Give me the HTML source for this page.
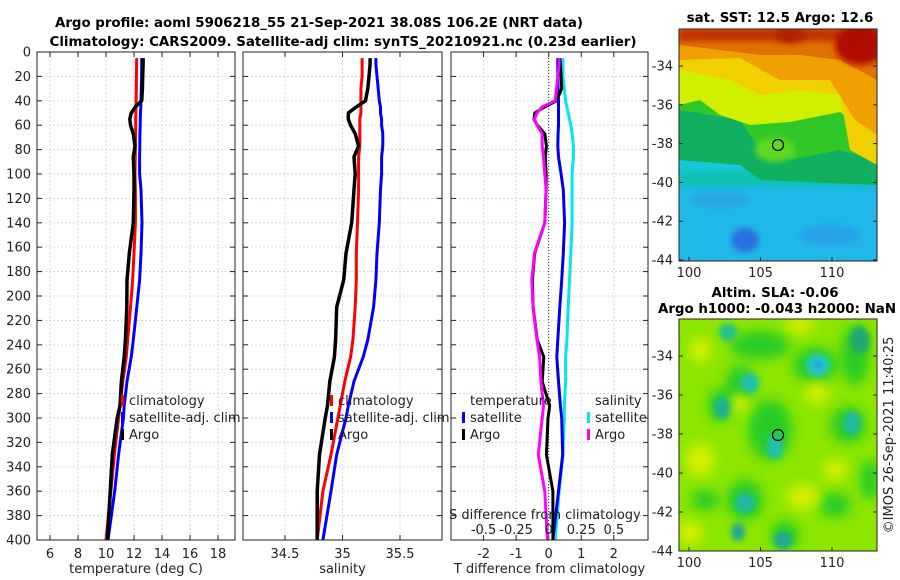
<!DOCTYPE html>
<html><head><meta charset="utf-8"><style>
body{margin:0;background:#fff;}
svg{display:block;font-family:"DejaVu Sans","Liberation Sans",sans-serif;}
.t{font-size:13px;fill:#222;}
.b{font-size:13.4px;font-weight:bold;fill:#000;}
</style></head><body>
<svg id="c" width="900" height="580" viewBox="0 0 900 580">
<defs>
<filter id="bl" x="-50%" y="-50%" width="200%" height="200%"><feGaussianBlur stdDeviation="6"/></filter>
<filter id="bl2" x="-50%" y="-50%" width="200%" height="200%"><feGaussianBlur stdDeviation="3"/></filter>
<clipPath id="cm1"><rect x="679" y="29" width="198" height="232"/></clipPath>
<clipPath id="cm2"><rect x="679" y="319" width="198" height="232"/></clipPath>
</defs>
<text class="b" x="319" y="27" text-anchor="middle" textLength="528">Argo profile: aoml 5906218_55 21-Sep-2021 38.08S 106.2E (NRT data)</text>
<text class="b" x="343" y="46" text-anchor="middle" textLength="587">Climatology: CARS2009. Satellite-adj clim: synTS_20210921.nc (0.23d earlier)</text>
<g id="panels"></g>

<!-- SST map -->
<g clip-path="url(#cm1)">
<rect x="679" y="29" width="198" height="232" fill="#18c8d8"/>
<rect x="679" y="175" width="198" height="86" fill="#20b8e8"/>
<ellipse cx="745" cy="240" rx="14" ry="12" fill="#2a70e0" filter="url(#bl2)"/>
<ellipse cx="720" cy="200" rx="30" ry="8" fill="#28a8e0" filter="url(#bl2)"/>
<ellipse cx="830" cy="235" rx="30" ry="10" fill="#28a0e8" filter="url(#bl2)"/>
<rect x="679" y="172" width="198" height="14" fill="#10c0b0" filter="url(#bl2)"/>
<polygon points="679,29 877,29 877,185 760,180 740,165 679,160" fill="#10b060"/>
<polygon points="679,110 740,120 760,150 790,160 840,150 877,160 877,29 679,29" fill="#30c828"/>
<polygon points="679,105 700,100 720,115 750,125 790,122 840,112 877,140 877,29 679,29" fill="#d0f000"/>
<ellipse cx="775" cy="150" rx="20" ry="12" fill="#60d820" filter="url(#bl2)"/>
<polygon points="679,70 730,80 760,95 800,90 840,95 850,150 877,165 877,29 679,29" fill="#f0d000"/>
<polygon points="679,60 740,58 780,80 830,80 855,120 877,135 877,29 679,29" fill="#f0a000"/>
<polygon points="679,45 720,50 760,55 800,55 840,60 877,80 877,29 679,29" fill="#e07000"/>
<rect x="679" y="29" width="198" height="12" fill="#c03000" filter="url(#bl2)"/>
<ellipse cx="860" cy="45" rx="25" ry="20" fill="#b01000" filter="url(#bl2)"/>
<ellipse cx="790" cy="35" rx="15" ry="8" fill="#b02000" filter="url(#bl2)"/>
</g>
<rect x="679" y="29" width="198" height="232" fill="none" stroke="#222" stroke-width="1"/>
<circle cx="778" cy="145" r="5.5" fill="none" stroke="#000" stroke-width="1.2"/>
<text class="b" x="780" y="22" text-anchor="middle">sat. SST: 12.5 Argo: 12.6</text>

<!-- SLA map -->
<g clip-path="url(#cm2)">
<rect x="679" y="319" width="198" height="232" fill="#8ce600"/>
<g filter="url(#bl)" fill="#28cc28">
<ellipse cx="760" cy="345" rx="30" ry="14"/><ellipse cx="815" cy="365" rx="22" ry="18"/>
<ellipse cx="770" cy="430" rx="22" ry="30"/><ellipse cx="740" cy="385" rx="14" ry="20"/>
<ellipse cx="855" cy="355" rx="14" ry="30"/><ellipse cx="848" cy="425" rx="18" ry="18"/>
<ellipse cx="720" cy="405" rx="12" ry="16"/><ellipse cx="745" cy="500" rx="18" ry="20"/>
<ellipse cx="785" cy="535" rx="14" ry="14"/><ellipse cx="705" cy="500" rx="14" ry="10"/>
<ellipse cx="835" cy="505" rx="16" ry="12"/><ellipse cx="870" cy="480" rx="10" ry="20"/>
</g>
<g filter="url(#bl)" fill="#d8f000">
<ellipse cx="740" cy="403" rx="10" ry="9"/><ellipse cx="817" cy="393" rx="12" ry="10"/>
<ellipse cx="700" cy="460" rx="14" ry="16"/><ellipse cx="803" cy="497" rx="16" ry="12"/>
<ellipse cx="690" cy="533" rx="12" ry="12"/><ellipse cx="700" cy="350" rx="10" ry="12"/>
<ellipse cx="835" cy="470" rx="12" ry="10"/><ellipse cx="800" cy="325" rx="14" ry="8"/>
</g>
<g filter="url(#bl2)">
<ellipse cx="728" cy="332" rx="9" ry="9" fill="#20c090"/>
<ellipse cx="818" cy="365" rx="12" ry="11" fill="#20c8c8"/>
<ellipse cx="818" cy="365" rx="5" ry="5" fill="#20a0e0"/>
<ellipse cx="750" cy="383" rx="9" ry="10" fill="#20c0b0"/>
<ellipse cx="722" cy="408" rx="8" ry="11" fill="#20b090"/>
<ellipse cx="852" cy="423" rx="8" ry="12" fill="#20b8a8"/>
<ellipse cx="775" cy="447" rx="8" ry="12" fill="#20c0b0"/>
<ellipse cx="745" cy="503" rx="10" ry="10" fill="#20b8a0"/>
<ellipse cx="738" cy="532" rx="7" ry="9" fill="#20a890"/>
<ellipse cx="783" cy="540" rx="9" ry="9" fill="#20a890"/>
<ellipse cx="860" cy="340" rx="10" ry="14" fill="#20a870"/>
</g>
</g>
<rect x="679" y="319" width="198" height="232" fill="none" stroke="#222" stroke-width="1"/>
<circle cx="778" cy="435" r="5.5" fill="none" stroke="#000" stroke-width="1.2"/>
<text class="b" x="775" y="297" text-anchor="middle">Altim. SLA: -0.06</text>
<text class="b" x="777" y="313" text-anchor="middle">Argo h1000: -0.043 h2000: NaN</text>
<text class="t" transform="translate(893,435) rotate(-90)" text-anchor="middle">©IMOS 26-Sep-2021 11:40:25</text>
<g id="maps-axes"></g>
</svg>
<script>
const depths=[5,10,20,30,40,45,50,55,60,67,77,86,100,113,140,165,187,209,236,250,270,290,300,330,360,400];
const tempClim=[12.19,12.18,12.17,12.16,12.15,12.14,12.13,12.12,12.12,12.11,12.1,12.09,12.07,12.1,12.1,12.0,11.9,11.75,11.55,11.45,11.2,11.0,10.9,10.6,10.35,10.0];
const tempSat=[12.55,12.55,12.54,12.52,12.5,12.48,12.46,12.45,12.44,12.42,12.41,12.4,12.4,12.5,12.57,12.5,12.4,12.2,11.95,11.8,11.5,11.3,11.24,10.9,10.62,10.14];
const tempArgo=[12.65,12.65,12.62,12.6,12.55,12.1,11.8,11.7,11.75,11.95,12.07,11.95,12.0,12.0,11.95,11.66,11.5,11.48,11.38,11.3,11.1,11.0,10.8,10.45,10.3,10.1];
const salClim=[35.17,35.17,35.17,35.16,35.16,35.16,35.16,35.15,35.15,35.15,35.15,35.14,35.14,35.14,35.13,35.12,35.12,35.11,35.09,35.07,35.02,34.98,34.96,34.9,34.83,34.78];
const salSat=[35.29,35.29,35.3,35.31,35.32,35.33,35.33,35.34,35.34,35.35,35.35,35.34,35.34,35.33,35.32,35.3,35.29,35.27,35.22,35.18,35.1,35.05,35.03,34.95,34.9,34.83];
const salArgo=[35.24,35.24,35.23,35.22,35.2,35.12,35.05,35.05,35.07,35.11,35.14,35.1,35.11,35.1,35.08,35.03,35.01,34.95,34.94,34.93,34.89,34.87,34.85,34.8,34.78,34.78];
const dTSat=[0.28,0.28,0.28,0.29,0.3,0.3,0.3,0.3,0.3,0.29,0.28,0.3,0.38,0.45,0.49,0.45,0.4,0.34,0.28,0.25,0.3,0.36,0.4,0.43,0.3,0.13];
const dSSat=[0.11,0.11,0.11,0.12,0.13,0.14,0.15,0.16,0.17,0.18,0.19,0.19,0.18,0.18,0.18,0.17,0.16,0.15,0.14,0.13,0.13,0.12,0.12,0.11,0.08,0.05];
const dTArgo=[0.34,0.36,0.38,0.4,0.24,-0.12,-0.43,-0.45,-0.35,-0.12,-0.07,-0.1,-0.08,-0.08,-0.12,-0.43,-0.5,-0.48,-0.35,-0.15,-0.2,0.03,-0.02,-0.07,0.13,0.13];
const dSArgo=[0.08,0.08,0.07,0.06,0.05,-0.05,-0.09,-0.11,-0.09,-0.05,-0.05,-0.04,-0.03,-0.02,-0.03,-0.11,-0.13,-0.12,-0.09,-0.07,-0.06,-0.04,-0.05,-0.08,-0.03,-0.01];
const yTicks=[0,20,40,60,80,100,120,140,160,180,200,220,240,260,280,300,320,340,360,380,400];
const tTicks=[6,8,10,12,14,16,18];
const sTicks=[34.5,35,35.5];
const dtTicks=[-2,-1,0,1,2];
const dsTicks=[-0.5,-0.25,0,0.25,0.5];
const dsTickLabels=["-0.5","-0.25","0","0.25","0.5"];
const lonTicks=[100,105,110];
const latTicks=[-34,-36,-38,-40,-42,-44];

const NS="http://www.w3.org/2000/svg";
const G=document.getElementById('panels');
function el(tag,attrs,parent){const e=document.createElementNS(NS,tag);for(const k in attrs)e.setAttribute(k,attrs[k]);(parent||G).appendChild(e);return e;}
const Y0=52,Y1=540;
const yS=d=>Y0+(d/400)*(Y1-Y0);
function mkX(x0,x1,v0,v1){return v=>x0+(v-v0)/(v1-v0)*(x1-x0);}
const panels=[
 {x0:37,x1:235,sx:mkX(37,235,5.07,19.21),ticks:tTicks,label:"temperature (deg C)",name:"temperature-panel"},
 {x0:243,x1:442,sx:mkX(243,442,34.135,35.865),ticks:sTicks,label:"salinity",name:"salinity-panel"},
 {x0:451,x1:648,sx:mkX(451,648,-3.0,3.05),ticks:dtTicks,label:"T difference from climatology",name:"difference-panel"}
];
panels.forEach((p,i)=>{
 const g=el('g',{});
 
 
 p.g=g;
 p.ticks.forEach(v=>{const x=p.sx(v);
  const l=el('line',{x1:x,x2:x,y1:Y0,y2:Y1,stroke:'#c8c8f0','stroke-width':0.7,'stroke-dasharray':'2,2'},g);
  
  el('line',{x1:x,x2:x,y1:Y1,y2:Y1-5,stroke:'#222'},g);el('line',{x1:x,x2:x,y1:Y0,y2:Y0+5,stroke:'#222'},g);
  const t=el('text',{x:x,y:558,'text-anchor':'middle',class:'t'},g);t.textContent=String(v);
  
 });
 yTicks.forEach(d=>{const y=yS(d);
  const l=el('line',{x1:p.x0,x2:p.x1,y1:y,y2:y,stroke:'#c8c8f0','stroke-width':0.7,'stroke-dasharray':'2,2'},g);
  
  el('line',{x1:p.x0,x2:p.x0+5,y1:y,y2:y,stroke:'#222'},g);el('line',{x1:p.x1,x2:p.x1-5,y1:y,y2:y,stroke:'#222'},g);
  if(i===0){const t=el('text',{x:31,y:y+4.5,'text-anchor':'end',class:'t'},g);t.textContent=String(d);
   }
 });
 const t=el('text',{x:(p.x0+p.x1)/2,y:573,'text-anchor':'middle',class:'t'},g);t.textContent=p.label;
 
});
function line(p,vals,color,name,w){
 const pts=vals.map((v,k)=>p.sx(v).toFixed(1)+','+yS(depths[k]).toFixed(1)).join(' ');
 const e=el('polyline',{points:pts,fill:'none',stroke:color,'stroke-width':w||3,'stroke-linejoin':'round'},p.g);
 
 
}
const P=panels;
line(P[0],tempClim,'#ff0000','temp-climatology-line');
line(P[0],tempSat,'#0000ff','temp-satellite-line');
line(P[0],tempArgo,'#000000','temp-argo-line',3.5);
line(P[1],salClim,'#ff0000','sal-climatology-line');
line(P[1],salSat,'#0000ff','sal-satellite-line');
line(P[1],salArgo,'#000000','sal-argo-line',3.5);
const z=el('line',{x1:P[2].sx(0),x2:P[2].sx(0),y1:Y0,y2:Y1,stroke:'#333','stroke-width':1,'stroke-dasharray':'1,2'},P[2].g);

const sxS=v=>P[2].sx(v*4);
const P3s={g:P[2].g,sx:sxS};
line(P3s,dSSat,'#00e8e8','sal-diff-satellite-line');
line(P[2],dTSat,'#0000ee','temp-diff-satellite-line');
line(P[2],dTArgo,'#000000','temp-diff-argo-line');
line(P3s,dSArgo,'#ff00ff','sal-diff-argo-line');
dsTicks.forEach((v,k)=>{const t=el('text',{x:sxS(v),y:534,'text-anchor':'middle',class:'t'},P[2].g);t.textContent=dsTickLabels[k];
 });
{const t=el('text',{x:449,y:519,class:'t'},P[2].g);t.textContent='S difference from climatology';
 }
panels.forEach(p=>{const r=el('rect',{x:p.x0,y:Y0,width:p.x1-p.x0,height:Y1-Y0,fill:'none',stroke:'#222','stroke-width':1},p.g);
 });
function legend(x,items,parent){items.forEach((it,k)=>{
 const y=395+k*17;
 if(it.c){el('rect',{x:x,y:y,width:3,height:11,fill:it.c},parent);}
 const t=el('text',{x:x+8,y:y+10,class:'t',fill:'#000'},parent);t.textContent=it.t;
 
});}
legend(121,[{c:'#ff0000',t:'climatology'},{c:'#0000ff',t:'satellite-adj. clim'},{c:'#000',t:'Argo'}],P[0].g);
legend(330,[{c:'#ff0000',t:'climatology'},{c:'#0000ff',t:'satellite-adj. clim'},{c:'#000',t:'Argo'}],P[1].g);
legend(462,[{c:null,t:'temperature'},{c:'#0000ff',t:'satellite'},{c:'#000',t:'Argo'}],P[2].g);
legend(587,[{c:null,t:'salinity'},{c:'#00e8e8',t:'satellite'},{c:'#ff00ff',t:'Argo'}],P[2].g);
const MA=document.getElementById('maps-axes');
const lonX=v=>689+(v-100)*14.3;
[[29,261,66,19.4],[319,551,356,19.5]].forEach(m=>{
 lonTicks.forEach(v=>{const x=lonX(v);
  el('line',{x1:x,x2:x,y1:m[1],y2:m[1]-4,stroke:'#222'},MA);
  const t=el('text',{x:x,y:m[1]+16,'text-anchor':'middle',class:'t'},MA);t.textContent=String(v);
  });
 latTicks.forEach(v=>{const y=m[2]+(-34-v)*m[3];
  el('line',{x1:679,x2:683,y1:y,y2:y,stroke:'#222'},MA);el('line',{x1:877,x2:873,y1:y,y2:y,stroke:'#222'},MA);
  const t=el('text',{x:673,y:y+4.5,'text-anchor':'end',class:'t'},MA);t.textContent=String(v);
  });
});
</script>
</body></html>
